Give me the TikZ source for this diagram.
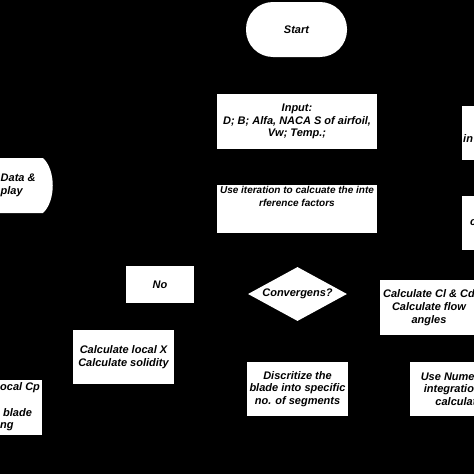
\documentclass[tikz,border=0pt]{standalone}
\usepackage{fontspec}
\setmainfont{Liberation Sans}
\usetikzlibrary{shapes.geometric}
\newcommand{\flowfont}{\fontsize{11}{12.7}\selectfont\bfseries\itshape}
\newcommand{\iterfont}{\fontsize{10}{13}\selectfont\bfseries\itshape}

\begin{document}
\begin{tikzpicture}[x=1pt,y=-1pt,
  box/.style={rectangle,fill=white,inner sep=0pt,align=center,font=\flowfont},
  term/.style={box,rounded corners=27pt},
  decide/.style={diamond,fill=white,inner sep=0pt,aspect=1.83,font=\flowfont},
  frag/.style={inner sep=0pt,align=left,anchor=west,font=\flowfont}]
\useasboundingbox (0,0) rectangle (474,474);
\clip (0,0) rectangle (474,474);
\fill[black] (0,0) rectangle (474,474);
% top column
\node[term,minimum width=101pt,minimum height=55pt] (start) at (296.5,29.5) {Start};
\node[box,minimum width=160pt,minimum height=55pt] (input) at (297,121.5) {Input:\\D; B; Alfa, NACA S of airfoil,\\Vw; Temp.;};
\node[box,minimum width=160pt,minimum height=48pt] (iter) at (297,209) {};
\node[inner sep=0pt,align=center,font=\iterfont,anchor=north] (itertext) at (297,186) {Use iteration to calcuate the inte\\rference factors};
% left display, cut by the edge
\fill[white] (-60,158) -- (43,158) .. controls (56,170) and (56,201) .. (43,213) -- (-60,213) -- cycle;
\node[frag] (outtext) at (0.5,185) {Data \&\\play};
% right boxes, cut by the edge
\node[box,minimum width=100pt,minimum height=54pt] (rbox1) at (512,133) {};
\node[frag] (rtext1) at (463,139) {in};
\node[box,minimum width=100pt,minimum height=54pt] (rbox2) at (512,223) {};
\node[frag] (rtext2) at (470,223) {c};
% lower part
\node[box,minimum width=68pt,minimum height=37pt] (no) at (160,284.5) {No};
\node[decide,minimum width=99pt,minimum height=54pt] (conv) at (297.5,294) {Convergens?};
\node[box,minimum width=98pt,minimum height=55pt] (clcd) at (429,307.5) {Calculate Cl \& Cd\\Calculate flow\\angles};
\node[box,minimum width=101pt,minimum height=54pt] (localx) at (123.5,357) {Calculate local X\\Calculate solidity};
\node[box,minimum width=101pt,minimum height=54pt] (disc) at (297.5,389) {Discritize the\\blade into specific\\no. of segments};
\node[box,minimum width=98pt,minimum height=54pt] (numint) at (459,389) {Use Numerical\\integration to\\calculate};
\node[box,minimum width=98pt,minimum height=55pt] (cp) at (-7,407.5) {};
\node[frag] (cptext) at (0,407) {ocal Cp\\\strut\\\hspace*{3pt}blade\\ng};
\end{tikzpicture}
\end{document}
